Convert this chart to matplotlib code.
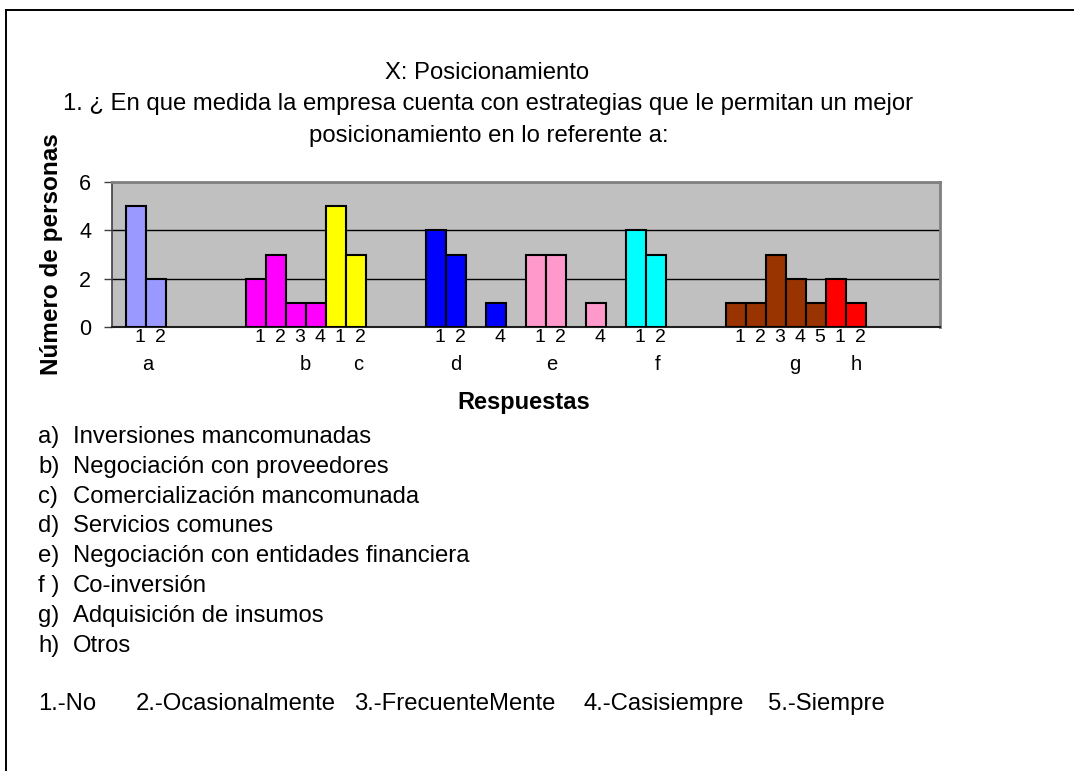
import matplotlib
matplotlib.use("Agg")
import matplotlib.pyplot as plt
import numpy as np

plt.rcParams['font.family'] = ['Liberation Sans', 'DejaVu Sans']

# ----------------------------------- Data -----------------------------------
groups = ['a', 'b', 'c', 'd', 'e', 'f', 'g', 'h']
values_a = [5, 2]
values_b = [2, 3, 1, 1]
values_c = [5, 3]
values_d = [4, 3, 0, 1]
values_e = [3, 3, 0, 1]
values_f = [4, 3]
values_g = [1, 1, 3, 2, 1]
values_h = [2, 1]
all_values = [values_a, values_b, values_c, values_d, values_e, values_f, values_g, values_h]

colors = ['#9999FF', '#FF00FF', '#FFFF00', '#0000FF', '#FF99CC', '#00FFFF', '#993300', '#FF0000']

yticks = [0, 2, 4, 6]

descriptions = [
    "Inversiones mancomunadas",
    "Negociación con proveedores",
    "Comercialización mancomunada",
    "Servicios comunes",
    "Negociación con entidades financiera",
    "Co-inversión",
    "Adquisición de insumos",
    "Otros",
]
desc_keys = ["a)", "b)", "c)", "d)", "e)", "f )", "g)", "h)"]

scale_labels = ["1.-No", "2.-Ocasionalmente", "3.-FrecuenteMente", "4.-Casisiempre", "5.-Siempre"]

# layout (slot units / pixels)
group_start = [0, 6, 10, 15, 20, 25, 30, 35]
group_label_x = [1.1, 8.95, 11.6, 16.5, 21.3, 26.6, 33.45, 36.5]
scale_label_px = [38, 136, 354, 584, 768]

W, H = 1074, 771


def fx(x):
    return x / W


def fy(y):
    return 1 - y / H


# ----------------------------------- Plotting -----------------------------------
fig = plt.figure(figsize=(W / 100, H / 100), dpi=100)

# outer frame (top + left)
fig.add_artist(plt.Line2D([fx(6), 1.0], [fy(10), fy(10)], color='black', lw=1.4))
fig.add_artist(plt.Line2D([fx(6), fx(6)], [fy(10), 0.0], color='black', lw=1.4))

ax = fig.add_axes([fx(112), fy(327), (940 - 112) / W, (327 - 182) / H])
ax.set_facecolor('#C0C0C0')

for vals, start, col in zip(all_values, group_start, colors):
    xs = np.arange(len(vals)) + start + 0.5
    v = np.array(vals)
    mask = v > 0
    ax.bar(xs[mask], v[mask], width=1.0, color=col, edgecolor='black', linewidth=1.5, zorder=3)
    for x, val, n in zip(xs, vals, range(1, len(vals) + 1)):
        if val > 0:
            ax.text(x + 0.2, -0.42, str(n), ha='center', va='center', fontsize=14)

for g, gx in zip(groups, group_label_x):
    ax.text(gx, -1.55, g, ha='center', va='center', fontsize=14.5)

ax.set_xlim(-0.7, 40.7)
ax.set_ylim(0, 6)
ax.set_yticks(yticks)
ax.set_yticklabels([str(t) for t in yticks], fontsize=15.5)
ax.set_xticks([])
ax.tick_params(axis='y', length=6, width=1.0, color='#404040', pad=9)
ax.grid(axis='y', color='black', linewidth=1.0, zorder=1)
for s in ['top', 'right']:
    ax.spines[s].set_color('#808080')
    ax.spines[s].set_linewidth(2)
ax.spines['left'].set_color('#404040')
ax.spines['bottom'].set_color('#202020')
ax.spines['left'].set_linewidth(1.2)
ax.spines['bottom'].set_linewidth(1.5)

fig.text(fx(52), fy(254), "Número de personas", rotation=90, ha='center', va='center',
         fontsize=17.5, fontweight='bold')
fig.text(fx(524), fy(403), "Respuestas", ha='center', va='center', fontsize=17, fontweight='bold')

# titles
fig.text(fx(487), fy(73), "X: Posicionamiento", ha='center', va='center', fontsize=17.2)
fig.text(fx(488), fy(104), "1. ¿ En que medida la empresa cuenta con estrategias que le permitan un mejor",
         ha='center', va='center', fontsize=17.2)
fig.text(fx(489), fy(136), "posicionamiento en lo referente a:", ha='center', va='center', fontsize=17.2)

# description list
for i, (k, d) in enumerate(zip(desc_keys, descriptions)):
    y = 437 + i * 29.8
    fig.text(fx(38), fy(y), k, ha='left', va='center', fontsize=17.2)
    fig.text(fx(73), fy(y), d, ha='left', va='center', fontsize=17.2)

for lbl, x in zip(scale_labels, scale_label_px):
    fig.text(fx(x), fy(704), lbl, ha='left', va='center', fontsize=17.2)

fig.savefig('out.png', dpi=100)
